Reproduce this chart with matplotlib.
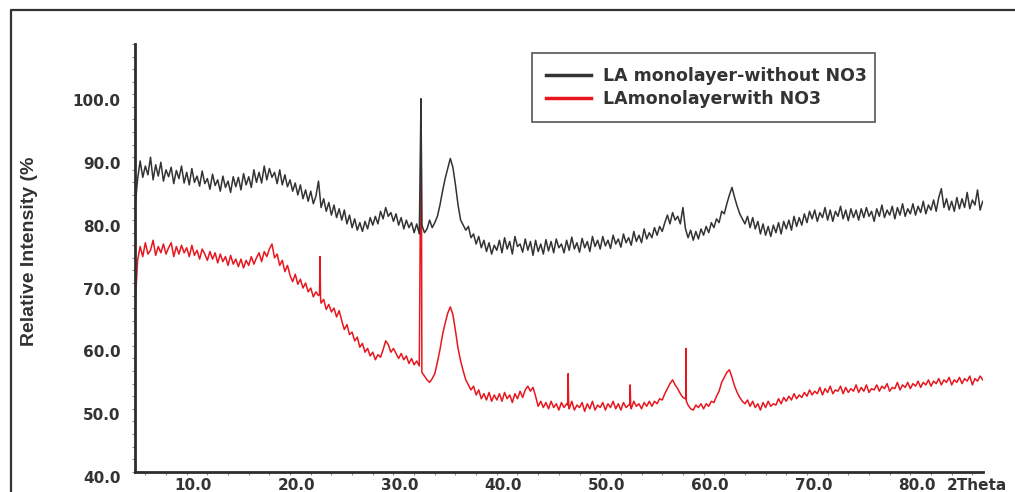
import numpy as np
import matplotlib.pyplot as plt
import matplotlib.transforms as mtransforms
from matplotlib.lines import Line2D
from matplotlib.ticker import MultipleLocator

# 2-theta grid (degrees), 0.25 step
two_theta = np.arange(5.0, 87.001, 0.25)

# LA monolayer-without NO3 (dark trace), 20 points per 5 degrees
without_no3 = [
    82.0, 86.5, 89.4, 86.8, 88.6, 87.2, 90.0, 86.4, 88.8, 87.0, 89.2, 86.2, 88.0, 86.9, 88.4, 85.8, 87.9, 86.6, 88.6, 85.9,
    87.6, 85.6, 88.2, 86.0, 87.0, 85.4, 87.8, 85.8, 86.6, 84.9, 87.3, 85.5, 86.4, 84.6, 87.0, 85.2, 86.2, 84.4, 86.9, 85.3,
    86.8, 84.8, 87.4, 85.6, 86.9, 85.2, 88.0, 86.0, 87.6, 85.9, 88.6, 86.4, 88.2, 86.8, 87.6, 85.8, 88.0, 85.6, 87.2, 85.3,
    86.4, 84.6, 85.9, 84.0, 85.6, 83.4, 84.8, 83.0, 84.6, 82.6, 83.8, 86.2, 82.0, 83.4, 81.4, 82.8, 80.8, 82.4, 80.4, 81.8,
    80.0, 81.6, 79.4, 80.8, 78.8, 80.2, 78.4, 79.6, 78.2, 79.8, 78.6, 80.4, 79.2, 80.6, 79.4, 81.4, 80.2, 82.0, 80.6, 81.2,
    79.8, 81.0, 79.2, 80.4, 78.6, 80.0, 78.8, 79.6, 78.0, 79.4, 77.8, 79.2, 78.0, 78.6, 80.0, 78.8, 79.6, 80.6, 82.4, 84.6,
    86.6, 88.2, 89.8, 88.4, 85.6, 82.4, 80.0, 79.2, 78.4, 79.0, 77.2, 77.8, 76.2, 77.4, 75.6, 76.8, 75.0, 76.4, 74.6, 76.0,
    75.2, 76.8, 74.8, 77.2, 75.4, 76.6, 74.6, 77.4, 75.8, 76.2, 74.9, 77.0, 75.2, 76.6, 74.4, 76.8, 75.0, 76.2, 74.6, 76.9,
    75.1, 76.6, 74.8, 77.0, 75.6, 76.2, 74.8, 76.8, 75.2, 77.3, 75.4, 76.4, 74.9, 77.1, 75.6, 76.6, 75.0, 77.4, 75.8, 76.8,
    75.4, 77.4, 75.9, 76.8, 75.5, 77.6, 76.2, 77.0, 75.7, 77.8, 76.4, 77.2, 76.0, 78.2, 76.6, 77.6, 76.4, 78.6, 77.0, 78.0,
    77.2, 78.8, 77.6, 79.0, 78.2, 79.6, 80.8, 79.4, 81.2, 80.0, 80.6, 79.4, 82.0, 78.6, 77.2, 78.4, 76.8, 78.2, 77.0, 78.6,
    77.6, 79.0, 78.0, 79.6, 78.8, 80.2, 79.6, 81.4, 81.0, 82.6, 84.0, 85.2, 83.6, 82.2, 81.0, 80.2, 79.4, 80.6, 78.8, 80.4,
    78.6, 79.8, 77.8, 79.4, 77.6, 79.0, 77.4, 79.2, 78.0, 79.6, 77.8, 79.8, 78.6, 80.0, 78.4, 80.6, 79.0, 80.4, 79.2, 81.0,
    79.6, 81.4, 80.2, 81.6, 79.8, 81.2, 80.4, 82.0, 80.0, 81.6, 79.8, 81.4, 80.6, 82.2, 80.2, 81.6, 79.9, 81.8, 80.4, 81.6,
    80.0, 81.8, 80.4, 82.0, 80.6, 81.4, 79.8, 81.8, 80.6, 82.4, 80.4, 81.6, 80.8, 82.2, 80.2, 82.0, 80.8, 82.6, 80.6, 81.8,
    81.0, 82.6, 80.8, 82.2, 81.2, 83.0, 81.0, 82.4, 81.6, 83.2, 81.4, 83.6, 85.0, 82.0, 83.4, 81.6, 83.0, 81.4, 83.6, 81.8,
    83.4, 82.0, 84.4, 81.8, 83.2, 82.4, 84.8, 81.6, 83.0,
]
without_peak_x = [32.6, 32.66, 32.72]
without_peak_y = [90.0, 99.3, 88.0]

# LAmonolayerwith NO3 (red trace)
with_no3 = [
    66.0, 73.6, 75.8, 74.2, 76.4, 74.6, 75.2, 76.8, 74.4, 75.8, 74.8, 76.2, 74.6, 75.6, 76.4, 74.2, 75.8, 74.6, 76.0, 74.8,
    75.6, 74.2, 76.0, 74.4, 75.2, 73.8, 75.4, 74.6, 73.6, 75.0, 73.8, 74.8, 73.2, 74.6, 73.4, 74.2, 72.8, 74.4, 73.0, 73.8,
    72.6, 73.8, 72.4, 73.6, 72.8, 74.2, 73.0, 74.0, 74.8, 73.4, 75.0, 74.2, 75.4, 76.2, 74.0, 74.6, 72.8, 73.6, 71.8, 72.8,
    71.2, 70.2, 71.4, 69.8, 70.6, 69.2, 70.0, 68.6, 69.2, 67.8, 68.6, 68.0, 66.8, 67.4, 65.8, 66.6, 65.4, 66.0, 64.6, 65.6,
    64.0, 62.6, 63.4, 61.8, 62.2, 60.8, 61.4, 59.8, 60.4, 59.0, 59.6, 58.4, 59.0, 57.8, 58.6, 58.2, 59.4, 60.8, 60.2, 59.0,
    59.6, 58.8, 58.0, 58.8, 57.8, 58.4, 57.2, 58.0, 57.0, 57.6, 56.8, 55.8, 55.2, 54.6, 54.2, 54.8, 55.6, 57.4, 59.4, 61.8,
    63.6, 65.2, 66.2, 65.0, 62.4, 59.6, 57.6, 56.0, 54.6, 53.8, 53.0, 53.6, 52.2, 53.0, 51.6, 52.4, 51.4, 52.6, 51.2, 52.2,
    51.4, 52.4, 51.2, 52.6, 51.6, 52.2, 51.0, 52.4, 51.6, 52.8, 51.8, 53.0, 53.6, 52.8, 53.4, 52.0, 50.4, 51.2, 50.2, 51.0,
    50.0, 51.2, 50.2, 50.8, 49.8, 51.0, 50.2, 50.8, 50.0, 51.2, 49.8, 50.6, 50.2, 51.0, 49.6, 50.8, 50.0, 51.2, 49.8, 50.6,
    50.2, 51.0, 49.8, 50.8, 50.2, 51.2, 50.0, 50.8, 49.8, 51.0, 50.2, 50.6, 50.0, 51.2, 50.4, 50.8, 50.0, 51.0, 50.4, 51.2,
    50.4, 51.2, 50.8, 51.6, 51.4, 52.4, 53.2, 54.0, 54.6, 53.8, 53.2, 52.4, 51.8, 51.6, 50.6, 50.0, 49.8, 50.6, 50.2, 50.8,
    50.0, 50.8, 50.4, 51.2, 51.0, 52.0, 52.8, 54.2, 55.0, 55.8, 56.2, 55.0, 53.6, 52.6, 51.8, 51.2, 50.8, 51.4, 50.4, 51.2,
    50.2, 50.8, 49.8, 51.0, 50.2, 51.2, 50.4, 50.8, 50.6, 51.6, 50.8, 51.8, 51.2, 52.0, 51.4, 52.4, 51.6, 52.2, 51.8, 52.6,
    52.0, 53.0, 52.2, 52.8, 52.4, 53.4, 52.2, 53.2, 52.6, 53.6, 52.4, 53.0, 52.8, 53.6, 52.4, 53.4, 52.6, 53.2, 52.8, 53.8,
    52.6, 53.4, 52.8, 53.8, 52.6, 53.2, 53.0, 53.8, 52.8, 53.6, 53.2, 54.0, 52.8, 53.4, 53.2, 54.2, 53.0, 53.8, 53.4, 54.2,
    53.2, 54.0, 53.6, 54.4, 53.4, 54.2, 53.8, 54.6, 53.6, 54.4, 54.0, 54.8, 53.8, 54.6, 54.2, 55.0, 53.8, 54.6, 54.2, 55.0,
    54.0, 54.8, 54.4, 55.2, 53.8, 54.8, 54.4, 55.2, 54.6,
]
with_peak_x = [22.85, 22.9, 22.95, 32.6, 32.66, 32.72, 46.85, 46.9, 46.95,
               52.85, 52.9, 52.95, 58.28, 58.3, 58.33]
with_peak_y = [68.2, 74.2, 67.4, 80.0, 98.6, 78.0, 50.6, 55.6, 50.4,
               50.6, 53.8, 50.4, 52.0, 59.6, 51.2]

x_ticks = [10, 20, 30, 40, 50, 60, 70, 80]
y_ticks = [40, 50, 60, 70, 80, 90, 100]
labels = ["LA monolayer-without NO3", "LAmonolayerwith NO3"]

DARK = "#333333"
RED = "#e8161e"


def merged(x, y, px, py):
    xs = np.concatenate([x, px])
    ys = np.concatenate([y, py])
    order = np.argsort(xs, kind="stable")
    return xs[order], ys[order]


fig = plt.figure(figsize=(10.15, 4.92), dpi=100)
ax = fig.add_axes([135 / 1015, 1 - 471.7 / 492, (982.7 - 135) / 1015, (471.7 - 44) / 492])

xr, yr = merged(two_theta, with_no3, with_peak_x, with_peak_y)
xb, yb = merged(two_theta, without_no3, without_peak_x, without_peak_y)
ax.plot(xr, yr, color=RED, lw=1.1)
ax.plot(xb, yb, color=DARK, lw=1.1)

ax.set_xlim(5, 87)
ax.set_ylim(40, 108)
for s in ["top", "right"]:
    ax.spines[s].set_visible(False)
for s in ["left", "bottom"]:
    ax.spines[s].set_linewidth(2.0)
    ax.spines[s].set_color("#2e2e2e")

ax.set_xticks(x_ticks, labels=[f"{v:.1f}" for v in x_ticks])
ax.set_yticks(y_ticks, labels=[f"{v:.1f}" for v in y_ticks])
ax.xaxis.set_minor_locator(MultipleLocator(2))
ax.yaxis.set_minor_locator(MultipleLocator(2))
ax.tick_params(which="both", length=2.5, width=0.8, color="#8a8a8a", direction="out")
ax.tick_params(axis="x", which="major", pad=1.8)
ax.tick_params(axis="y", which="major", pad=8)

tick_font = dict(family="DejaVu Sans", weight="bold", size=11)
dx = mtransforms.ScaledTranslation(6.5 / 100, 0, fig.dpi_scale_trans)
dy = mtransforms.ScaledTranslation(0, -5.5 / 100, fig.dpi_scale_trans)
for lab in ax.get_xticklabels():
    lab.set(color=DARK, **tick_font)
    lab.set_transform(lab.get_transform() + dx)
for lab in ax.get_yticklabels():
    lab.set(color=DARK, **tick_font)
    lab.set_transform(lab.get_transform() + dy)

fig.text(947 / 1015, 1 - 485 / 492, "2Theta", ha="left", va="center", color=DARK, **tick_font)
fig.text(30 / 1015, 1 - 251 / 492, "Relative Intensity (%", rotation=90, ha="center", va="center",
         color=DARK, family="Liberation Sans", weight="bold", size=14)

handles = [Line2D([], [], color=DARK, lw=2.5), Line2D([], [], color=RED, lw=2.5)]
leg = ax.legend(handles, labels, loc="upper left", bbox_to_anchor=(0.468, 0.66, 0.4046, 0.319),
                mode="expand", borderaxespad=0,
                fancybox=False, edgecolor="#555555", framealpha=1, labelcolor=DARK,
                prop=dict(family="DejaVu Sans", weight="bold", size=12.5),
                handlelength=2.6, handletextpad=0.7, labelspacing=0.3, borderpad=0.8)
leg.get_frame().set_linewidth(1.2)

# outer frame (left and top edges visible in the picture)
fig.add_artist(Line2D([11 / 1015, 11 / 1015, 1.0], [0, 1 - 10 / 492, 1 - 10 / 492],
                      transform=fig.transFigure, color=DARK, lw=1.6))

fig.savefig("out.png", dpi=100)
plt.close(fig)
